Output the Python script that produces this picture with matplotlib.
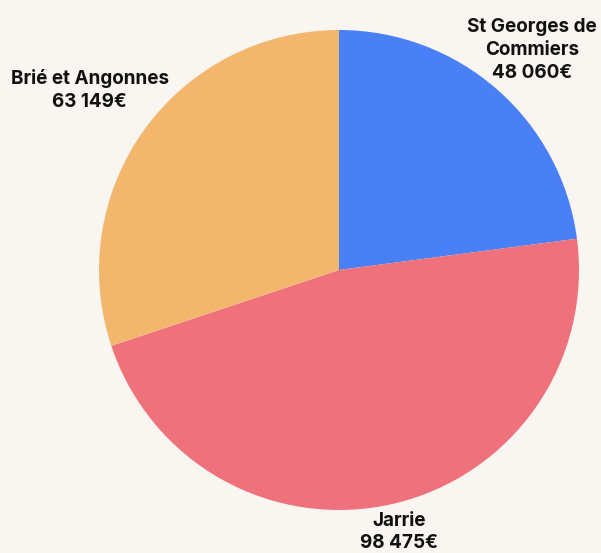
import numpy as np
import matplotlib.pyplot as plt

# Data
communes = ['St Georges de\nCommiers', 'Jarrie', 'Brié et Angonnes']
montants = [48060, 98475, 63149]
couleurs = ['#4a80f6', '#ef717b', '#f2b76d']
label_dist = [1.22, 1.12, 1.28]

plt.rcParams['font.family'] = ['Inter', 'DejaVu Sans']

fig = plt.figure(figsize=(6.01, 5.53), dpi=100)
fig.patch.set_facecolor('#f9f5f1')
ax = fig.add_axes([0, 0, 1, 1])
ax.set_facecolor('#f9f5f1')

wedges, _ = ax.pie(montants, colors=couleurs, startangle=90, counterclock=False,
                   radius=1, center=(0, 0), frame=True,
                   wedgeprops=dict(linewidth=0))

def fmt(v):
    return f'{v:,}'.replace(',', ' ') + '€'

for w, name, val, d in zip(wedges, communes, montants, label_dist):
    ang = np.deg2rad((w.theta1 + w.theta2) / 2)
    ax.text(d * np.cos(ang), d * np.sin(ang), f'{name}\n{fmt(val)}',
            ha='center', va='center', fontsize=13.6, fontweight='bold',
            color='#111111', linespacing=1.35)

# pixel-based limits: centre at (339, 270), radius 240 px
ax.set_xlim(-339 / 240, (601 - 339) / 240)
ax.set_ylim(-(553 - 270) / 240, 270 / 240)
ax.set_aspect('auto')
ax.axis('off')

fig.savefig('out.png', dpi=100, facecolor=fig.get_facecolor())
